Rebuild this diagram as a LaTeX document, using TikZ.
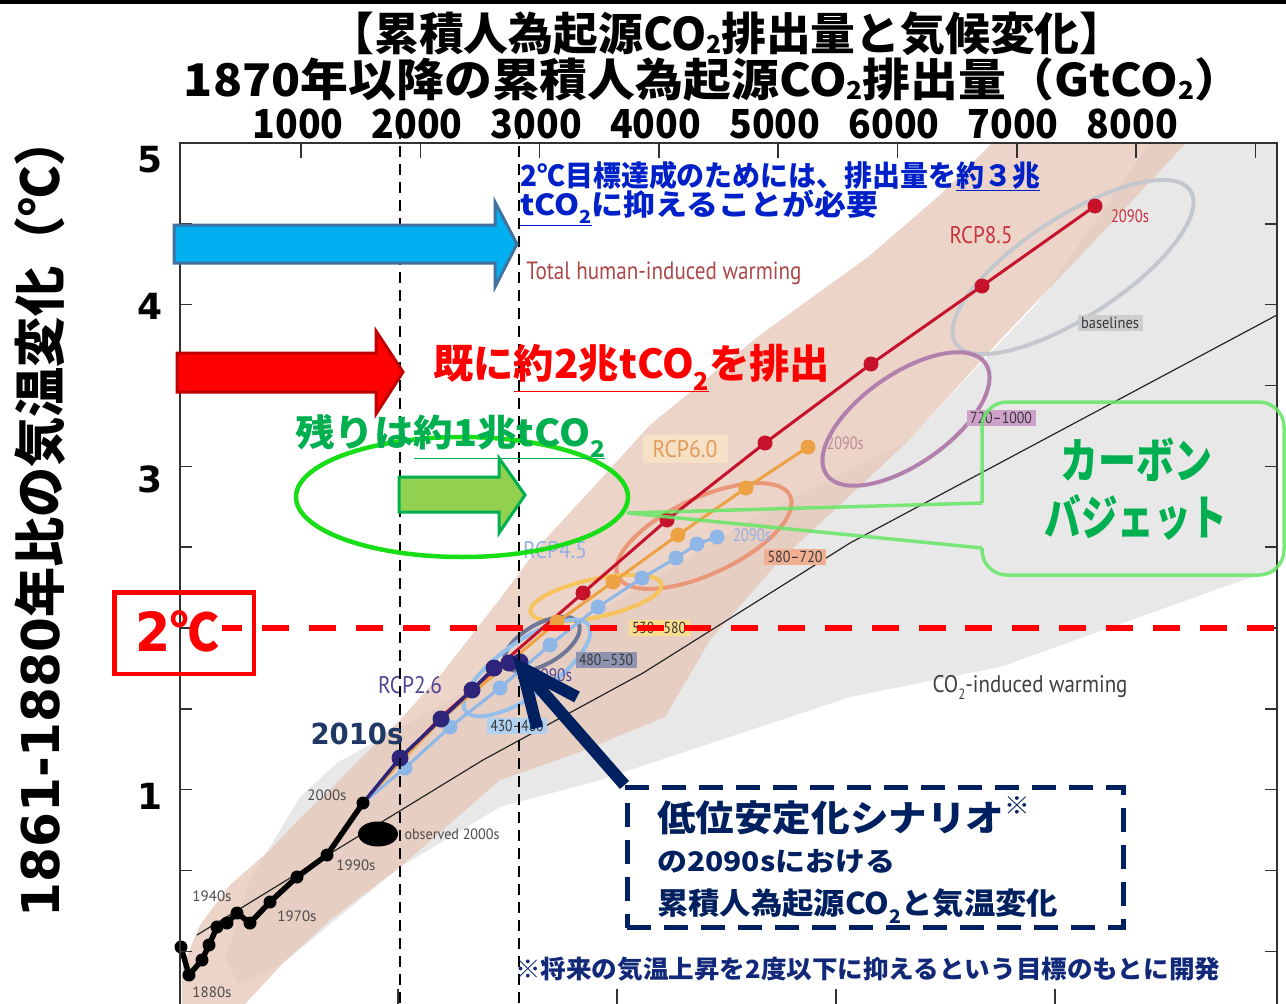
\documentclass[tikz,border=0pt]{standalone}
\usepackage{fontspec}
\usepackage{graphicx}
\setmainfont{Noto Sans CJK JP}
\newfontfamily\jp{Noto Sans CJK JP}
\newfontfamily\dvs{DejaVu Sans}
\newfontfamily\pts{PT Sans}
\usetikzlibrary{arrows.meta}
\newcommand\fs[1]{\fontsize{#1}{#1}\selectfont}
\newcommand\dn[1]{\raisebox{-0.3em}{\scalebox{0.62}{#1}}}
\newcommand\dnt[1]{\raisebox{-0.07em}{\scalebox{0.55}{#1}}}
\newcommand\cw[2]{\resizebox{#1}{\height}{#2}}

\definecolor{pinkb}{RGB}{230,196,180}
\definecolor{grayb}{RGB}{232,232,232}
\definecolor{c85}{RGB}{198,18,42}
\definecolor{c60}{RGB}{236,162,66}
\definecolor{c45}{RGB}{142,182,230}
\definecolor{c26}{RGB}{46,36,122}
\definecolor{ebase}{RGB}{196,200,206}
\definecolor{epur}{RGB}{178,128,172}
\definecolor{esal}{RGB}{234,150,120}
\definecolor{eyel}{RGB}{246,196,92}
\definecolor{egb}{RGB}{112,118,152}
\definecolor{elb}{RGB}{150,192,236}
\definecolor{bbase}{RGB}{205,205,205}
\definecolor{bpur}{RGB}{206,162,200}
\definecolor{bsal}{RGB}{242,176,146}
\definecolor{byel}{RGB}{250,220,140}
\definecolor{bgb}{RGB}{142,148,176}
\definecolor{blb}{RGB}{176,210,240}
\definecolor{b60}{RGB}{246,224,198}
\definecolor{rtext}{RGB}{55,55,60}
\definecolor{thw}{RGB}{172,72,72}
\definecolor{l85}{RGB}{200,50,60}
\definecolor{l60}{RGB}{226,156,90}
\definecolor{l60b}{RGB}{190,140,150}
\definecolor{l45}{RGB}{150,175,225}
\definecolor{l26}{RGB}{80,70,150}
\definecolor{arrblue}{RGB}{0,176,240}
\definecolor{arrblueb}{RGB}{65,113,156}
\definecolor{arrredb}{RGB}{192,0,0}
\definecolor{arrgreen}{RGB}{146,208,80}
\definecolor{arrgreenb}{RGB}{0,176,80}
\definecolor{ellgreen}{RGB}{24,222,24}
\definecolor{txtblue}{RGB}{0,32,200}
\definecolor{txtgreen}{RGB}{0,176,80}
\definecolor{navyc}{RGB}{0,32,96}
\definecolor{footc}{RGB}{18,40,120}
\definecolor{cbgreen}{RGB}{102,230,102}
\definecolor{lab2010}{RGB}{31,56,100}
\definecolor{framec}{RGB}{50,50,50}

\tikzset{
 rline/.style={line width=3pt, line join=round, draw=#1},
 rell/.style={draw=#1, line width=4pt},
 rlab/.style={fill=#1, text=rtext, font=\pts\fs{16}, inner xsep=3.5pt, inner ysep=2.5pt},
 plab/.style={font=\pts\fs{15}, inner sep=0pt},
 axtick/.style={line width=1.6pt, draw=framec},
 vdash/.style={draw=black, line width=2pt, dash pattern=on 11pt off 7pt},
 blockarr/.style={line width=3pt, line join=miter},
 jptext/.style={font=\jp\bfseries, inner sep=0pt},
}

\begin{document}
\begin{tikzpicture}[x=1pt,y=-1pt]
\useasboundingbox (0,0) rectangle (1286,1004);
\fill[white] (0,0) rectangle (1286,1004);
\fill[black] (0,0) rectangle (1286,4);

% ---- range bands
\fill[grayb] (225,960) -- (250,880) -- (300,797) -- (337,763) -- (450,700) -- (600,612) -- (750,520) -- (909,440) -- (1040,300) -- (1150,143) -- (1277,143) -- (1277,572) -- (1243,580) -- (1000,667) -- (850,697) -- (600,780) -- (500,807) -- (400,867) -- (283,963) -- (240,985) -- cycle;
\fill[pinkb, fill opacity=0.72] (182,1004) -- (182,968) -- (200,925) -- (230,885) -- (270,850) -- (300,818) -- (330,790) -- (357,762) -- (400,720) -- (443,672) -- (503,595) -- (540,545) -- (600,480) -- (650,425) -- (760,335) -- (868,257) -- (940,195) -- (992,143) -- (1186,143) -- (1100,235) -- (1000,340) -- (909,440) -- (840,505) -- (780,560) -- (710,640) -- (665,717) -- (580,752) -- (500,780) -- (400,867) -- (330,920) -- (283,963) -- (245,1004) -- cycle;

% ---- CO2-induced line
\draw[black!85, line width=1.2pt] (197,935) -- (483,760) -- (643,673) -- (850,543) -- (1277,315);

% ---- scenario ellipses
\draw[rell=ebase, rotate around={33:(1073,267)}] (1073,267) ellipse [x radius=140pt, y radius=50pt];
\draw[rell=epur, rotate around={35:(906,419)}] (906,419) ellipse [x radius=97pt, y radius=45pt];
\draw[rell=esal, rotate around={25:(704,536)}] (704,536) ellipse [x radius=95pt, y radius=38pt];
\draw[rell=eyel, rotate around={12:(596,598)}] (596,598) ellipse [x radius=67pt, y radius=19pt];
\draw[rell=egb, rotate around={30:(542,644)}] (542,644) ellipse [x radius=42pt, y radius=20pt];
\draw[rell=elb, rotate around={35:(527,668)}] (527,668) ellipse [x radius=75pt, y radius=27pt];

\node[rlab=bbase] (lbase) at (1110,323) {\cw{58pt}{baselines}};
\node[rlab=bpur] (l7201000) at (1001,418) {\cw{62pt}{720–1000}};
\node[rlab=bsal] (l580720) at (795,557) {\cw{55pt}{580–720}};
\node[rlab=byel] (l530580) at (659,628) {\cw{54pt}{530–580}};
\node[rlab=bgb] (l480530) at (606,660) {\cw{54pt}{480–530}};
\node[rlab=blb] (l430480) at (517,726) {\cw{53pt}{430–480}};

% ---- scenario paths
\draw[rline=c85] (363,803) -- (400,760) -- (440,718) -- (500,665) -- (583,593) -- (667,520) -- (765,443) -- (871,364) -- (982,286) -- (1095,206);
\foreach \x/\y in {583/593,667/520,765/443,871/364,982/286,1095/206} \fill[c85] (\x,\y) circle[radius=7.5pt];
\draw[rline=c60] (363,803) -- (400,762) -- (445,716) -- (500,670) -- (557,622) -- (613,582) -- (678,535) -- (746,488) -- (808,447);
\foreach \x/\y in {557/622,613/582,678/535,746/488,808/447} \fill[c60] (\x,\y) circle[radius=7.5pt];
\draw[rline=c45] (363,803) -- (405,768) -- (450,727) -- (500,688) -- (550,645) -- (598,607) -- (642,578) -- (676,558) -- (697,544) -- (717,537);
\foreach \x/\y in {405/768,450/727,500/688,550/645,598/607,642/578,676/558,697/544,717/537} \fill[c45] (\x,\y) circle[radius=7.5pt];
\draw[rline=c26, line width=3.5pt] (363,803) -- (400,758) -- (441,719) -- (472,690) -- (494,668) -- (509,663) -- (520,662);
\foreach \x/\y in {400/758,441/719,472/690,494/668,509/663,520/662} \fill[c26] (\x,\y) circle[radius=8.5pt];

% ---- observed
\draw[line width=5.5pt, line join=round] (181,947) -- (189,975) -- (202,960) -- (209,945) -- (217,927) -- (227,923) -- (237,913) -- (250,923) -- (270,902) -- (297,877) -- (327,855) -- (363,803);
\foreach \x/\y in {181/947,189/975,202/960,209/945,217/927,227/923,237/913,250/923,270/902,297/877,327/855,363/803} \fill (\x,\y) circle[radius=6.5pt];
\fill (378,834) ellipse [x radius=20pt, y radius=12.5pt];

% ---- plot labels
\node[plab, text=black!70] (l2000s) at (327,795) {2000s};
\node[plab, text=black!70] (l1990s) at (356,865) {1990s};
\node[plab, text=black!70] (l1970s) at (297,916) {1970s};
\node[plab, text=black!70] (l1940s) at (212,896) {1940s};
\node[plab, text=black!70] (l1880s) at (212,992) {1880s};
\node[plab, text=black!70] (lobs) at (452,834) {\cw{95pt}{observed 2000s}};
\node[plab, text=l85] (lrcp85) at (981,235) {\fs{24}\cw{63pt}{RCP8.5}};
\node[plab, text=l85] (l85y) at (1130,216) {\fs{18}\cw{38pt}{2090s}};
\node[plab, fill=b60, text=l60, minimum width=85pt, minimum height=28pt] (lrcp60) at (685,449) {\fs{24}\cw{65pt}{RCP6.0}};
\node[plab, text=l60b] (l60y) at (845,443) {\fs{18}\cw{37pt}{2090s}};
\node[plab, text=l45] (lrcp45) at (555,550) {\fs{24}\cw{64pt}{RCP4.5}};
\node[plab, text=l45] (l45y) at (752,535) {\fs{18}\cw{38pt}{2090s}};
\node[plab, text=l26] (lrcp26) at (410,685) {\fs{24}\cw{64pt}{RCP2.6}};
\node[plab, text=l26] (l26y) at (552,675) {\fs{18}\cw{40pt}{2090s}};
\node[plab, text=thw, anchor=base] (lthw) at (664,279) {\fs{25}\cw{275pt}{Total human-induced warming}};
\node[plab, text=black!75, anchor=base] (lco2) at (1030,692) {\fs{24}\cw{195pt}{CO\dn{2}-induced warming}};

% ---- frame and ticks
\draw[framec, line width=2.5pt] (180,1004) -- (180,143) -- (1277,143) -- (1277,1004);
\foreach \k in {1,...,10} {
  \draw[axtick] (180,{143+80.83*\k}) -- (192,{143+80.83*\k});
  \draw[axtick] (1277,{143+80.83*\k}) -- (1265,{143+80.83*\k});
}
\foreach \k in {0,...,8} \draw[axtick] ({301+119.3*\k},143) -- ({301+119.3*\k},158);
\foreach \xx in {398,617,836,1055} \draw[axtick] (\xx,1004) -- (\xx,989);

% ---- vertical dashed guides
\draw[vdash] (400,128) -- (400,1004);
\draw[vdash] (519,128) -- (519,1004);

% ---- green ellipse and block arrows
\draw[ellgreen, line width=4.5pt] (462,497) ellipse [x radius=166pt, y radius=60pt];
\filldraw[blockarr, fill=arrblue, draw=arrblueb] (174,225) -- (495,225) -- (495,202) -- (517,244) -- (495,287) -- (495,263) -- (174,263) -- cycle;
\filldraw[blockarr, fill=red, draw=arrredb] (177,353) -- (376,353) -- (376,331) -- (403,372) -- (376,414) -- (376,392) -- (177,392) -- cycle;
\filldraw[blockarr, fill=arrgreen, draw=arrgreenb] (399,477) -- (499,477) -- (499,458) -- (525,495) -- (499,533) -- (499,512) -- (399,512) -- cycle;

% ---- 2 degree line and box
\draw[red, line width=6pt, dash pattern=on 27pt off 19.9pt, dash phase=7pt] (222,628) -- (1286,628);
\node[draw=red, line width=4.5pt, minimum width=139.5pt, minimum height=81.5pt, inner sep=0pt] (twobox) at (184,633) {};
\node[anchor=base, inner sep=0pt, text=red] (twotxt) at (177,651) {\cw{84pt}{{\dvs\bfseries\fs{54}2}{\jp\bfseries\fs{52}℃}}};

% ---- carbon budget callout
\coordinate (cbtip) at (628,513);
\draw[cbgreen, line width=3.5pt, draw opacity=0.85, rounded corners=25pt] (982,503) -- (982,402) -- (1284,402) -- (1284,575) -- (982,575) -- (982,548);
\draw[cbgreen, line width=3.5pt, draw opacity=0.85, line join=round] (982,503) -- (cbtip) -- (982,548);
\node[jptext, anchor=base, text=txtgreen] (cb1) at (1136,478) {\fs{48}\cw{152pt}{カーボン}};
\node[jptext, anchor=base, text=txtgreen] (cb2) at (1136,535) {\fs{48}\cw{183pt}{バジェット}};

% ---- overlay texts
\node[jptext, anchor=base west, text=txtblue] (blue1) at (520,186) {\fs{29}\cw{520pt}{2℃目標達成のためには、排出量を\underline{約３兆}}};
\node[jptext, anchor=base west, text=txtblue] (blue2) at (520,215) {\fs{29}\cw{358pt}{\underline{tCO\dn{2}}に抑えることが必要}};
\node[jptext, anchor=base west, text=red] (redtxt) at (433,378) {\fs{40}\cw{397pt}{既に\underline{約2兆tCO\dn{2}}を排出}};
\node[jptext, anchor=base west, text=txtgreen] (grntxt) at (295,446) {\fs{37}\cw{310pt}{残りは\underline{約1兆tCO\dn{2}}}};

% ---- low stabilisation box
\node[draw=navyc, line width=5pt, dash pattern=on 24pt off 13pt, minimum width=496pt, minimum height=140pt, inner sep=0pt] (lowbox) at (875,857.5) {};
\node[jptext, anchor=base west, text=navyc] (lb1) at (657,831) {\fs{36}\cw{373pt}{低位安定化シナリオ\raisebox{0.45em}{\fs{24}※}}};
\node[jptext, anchor=base west, text=navyc] (lb2) at (657,871) {\fs{27}\cw{238pt}{の2090sにおける}};
\node[jptext, anchor=base west, text=navyc] (lb3) at (657,914) {\fs{30}\cw{401pt}{累積人為起源CO\dn{2}と気温変化}};
\coordinate (p26) at (522,668);
\coordinate (ah1) at (577,697);
\coordinate (ah2) at (537,728);
\draw[navyc, line width=12pt] (lowbox.north west) -- (p26);
\draw[navyc, line width=12pt, line join=miter] (ah1) -- (p26) -- (ah2);

\node[jptext, anchor=base west, text=footc] (foot) at (515,978) {\fs{25}\cw{705pt}{※将来の気温上昇を2度以下に抑えるという目標のもとに開発}};
\node[anchor=base, inner sep=0pt, text=lab2010, font=\dvs\bfseries\fs{29}] (l2010) at (357,744) {\cw{93pt}{2010s}};

% ---- titles and axes labels
\node[jptext, anchor=base] (title1) at (727,50) {\fs{45}\cw{795pt}{【累積人為起源CO\dnt{2}排出量と気候変化】}};
\node[jptext, anchor=base] (title2) at (713,96) {\fs{45}\cw{1058pt}{1870年以降の累積人為起源CO\dnt{2}排出量（GtCO\dnt{2}）}};
\foreach \v [count=\i from 0] in {1000,2000,...,8000}
  \node[jptext, anchor=base] (xl\v) at ({298+119.2*\i},138) {\fs{40}\cw{91pt}{\v}};
\node[jptext, rotate=90] (ylab) at (40,517) {\fs{52}\cw{801pt}{{\dvs\bfseries 1861-1880}年比の気温変化（℃）}};
\node[font=\dvs\bfseries\fs{36}, anchor=base, inner sep=0pt] (y5) at (150,172) {5};
\node[font=\dvs\bfseries\fs{36}, anchor=base, inner sep=0pt] (y4) at (150,319) {4};
\node[font=\dvs\bfseries\fs{36}, anchor=base, inner sep=0pt] (y3) at (150,492) {3};
\node[font=\dvs\bfseries\fs{36}, anchor=base, inner sep=0pt] (y1) at (150,809) {1};
\end{tikzpicture}
\end{document}
